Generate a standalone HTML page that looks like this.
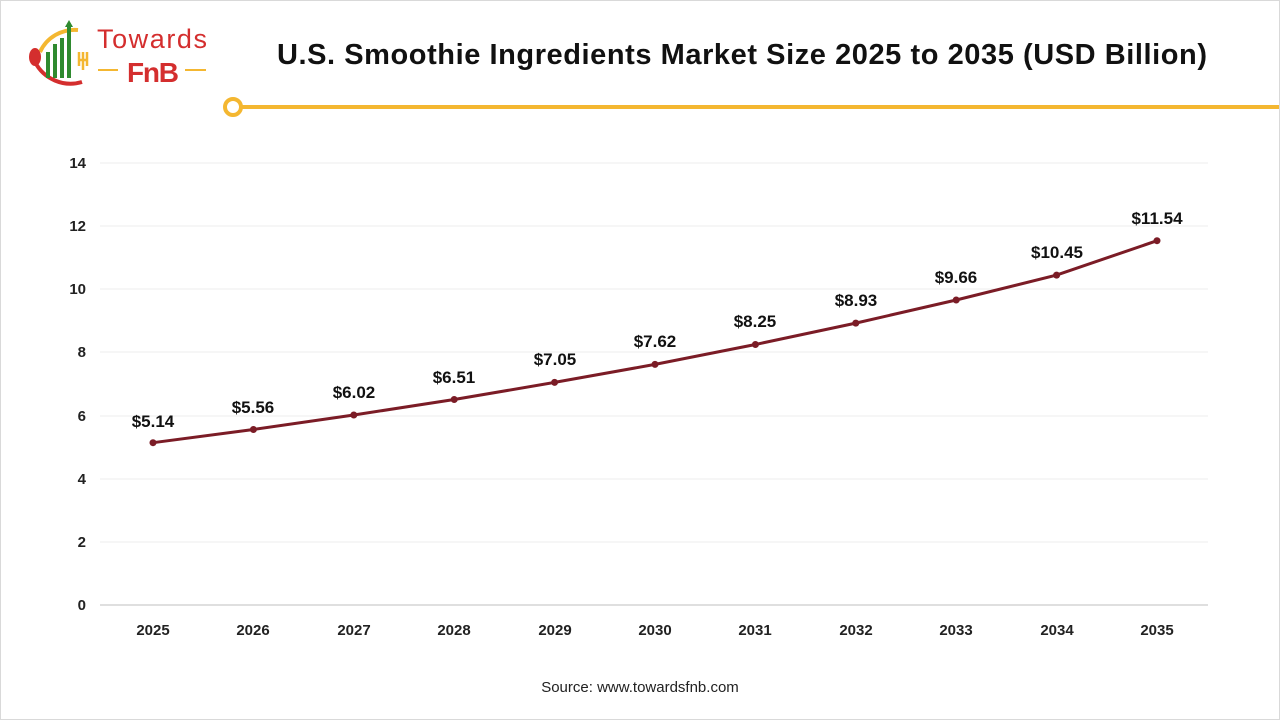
<!DOCTYPE html><html><head><meta charset="utf-8"><style>
body{margin:0;background:#fff;}
#p{position:relative;width:1278px;height:718px;border:1px solid #d9d9d9;overflow:hidden;font-family:"Liberation Sans",Arial,sans-serif;}
</style></head><body><div id="p">
<svg width="1278" height="718" viewBox="1 1 1278 718" style="position:absolute;left:0;top:0" font-family="Liberation Sans, Arial, sans-serif">
<!-- logo -->
<path d="M40 52 A38 38 0 0 1 78 30" stroke="#f4b731" stroke-width="4" fill="none"/>
<path d="M35 62 A40 40 0 0 0 82 82" stroke="#d42e2e" stroke-width="4" fill="none"/>
<ellipse cx="35" cy="57" rx="6" ry="9" fill="#d42e2e"/>
<rect x="46" y="52" width="4" height="26" fill="#2f8a2f"/>
<rect x="53" y="44" width="4" height="34" fill="#2f8a2f"/>
<rect x="60" y="38" width="4" height="40" fill="#2f8a2f"/>
<rect x="67" y="25" width="4" height="53" fill="#2f8a2f"/>
<polygon points="69,20 65,27 73,27" fill="#2f8a2f"/>
<path d="M79 52 v14 M83 52 v14 M87 52 v14 M78 60 h10 M83 60 v10" stroke="#f4b731" stroke-width="2.5"/>
<text x="97" y="48" font-size="27" fill="#d42e2e" textLength="110">Towards</text>
<line x1="98" y1="70" x2="118" y2="70" stroke="#f4b731" stroke-width="2"/>
<line x1="185" y1="70" x2="206" y2="70" stroke="#f4b731" stroke-width="2"/>
<text x="127" y="82" font-size="28" font-weight="bold" fill="#d42e2e" textLength="52">FnB</text>
<!-- title -->
<text x="277" y="64" font-size="29" font-weight="bold" fill="#111" textLength="930">U.S. Smoothie Ingredients Market Size 2025 to 2035 (USD Billion)</text>
<line x1="240" y1="107" x2="1280" y2="107" stroke="#f4b731" stroke-width="4"/>
<circle cx="233" cy="107" r="8" fill="#fff" stroke="#f4b731" stroke-width="4"/>
<!-- grid -->
<g stroke="#ececec" stroke-width="1">
<line x1="100" y1="163" x2="1208" y2="163"/><line x1="100" y1="226" x2="1208" y2="226"/>
<line x1="100" y1="289" x2="1208" y2="289"/><line x1="100" y1="352" x2="1208" y2="352"/>
<line x1="100" y1="416" x2="1208" y2="416"/><line x1="100" y1="479" x2="1208" y2="479"/>
<line x1="100" y1="542" x2="1208" y2="542"/></g>
<line x1="100" y1="605" x2="1208" y2="605" stroke="#bfbfbf"/>
<g font-size="15" font-weight="bold" fill="#222" text-anchor="end">
<text x="86" y="168">14</text><text x="86" y="231">12</text><text x="86" y="294">10</text>
<text x="86" y="357">8</text><text x="86" y="421">6</text><text x="86" y="484">4</text>
<text x="86" y="547">2</text><text x="86" y="610">0</text></g>
<g font-size="15" font-weight="bold" fill="#222" text-anchor="middle">
<text x="153" y="635">2025</text><text x="253" y="635">2026</text><text x="354" y="635">2027</text>
<text x="454" y="635">2028</text><text x="555" y="635">2029</text><text x="655" y="635">2030</text>
<text x="755" y="635">2031</text><text x="856" y="635">2032</text><text x="956" y="635">2033</text>
<text x="1057" y="635">2034</text><text x="1157" y="635">2035</text></g>
<polyline fill="none" stroke="#7b1c26" stroke-width="3" points="153,442.7 253.4,429.5 353.8,415 454.2,399.5 554.6,382.4 655,364.4 755.4,344.5 855.8,323.1 956.2,300 1056.6,275.1 1157,240.7"/>
<g fill="#7b1c26">
<circle cx="153" cy="442.7" r="3.5"/><circle cx="253.4" cy="429.5" r="3.5"/><circle cx="353.8" cy="415" r="3.5"/>
<circle cx="454.2" cy="399.5" r="3.5"/><circle cx="554.6" cy="382.4" r="3.5"/><circle cx="655" cy="364.4" r="3.5"/>
<circle cx="755.4" cy="344.5" r="3.5"/><circle cx="855.8" cy="323.1" r="3.5"/><circle cx="956.2" cy="300" r="3.5"/>
<circle cx="1056.6" cy="275.1" r="3.5"/><circle cx="1157" cy="240.7" r="3.5"/></g>
<g font-size="17" font-weight="bold" fill="#111" text-anchor="middle">
<text x="153" y="427">$5.14</text><text x="253" y="413">$5.56</text><text x="354" y="398">$6.02</text>
<text x="454" y="383">$6.51</text><text x="555" y="365">$7.05</text><text x="655" y="347">$7.62</text>
<text x="755" y="327">$8.25</text><text x="856" y="306">$8.93</text><text x="956" y="283">$9.66</text>
<text x="1057" y="258">$10.45</text><text x="1157" y="224">$11.54</text></g>
<text x="640" y="692" font-size="15" fill="#222" text-anchor="middle">Source: www.towardsfnb.com</text>
</svg></div></body></html>
